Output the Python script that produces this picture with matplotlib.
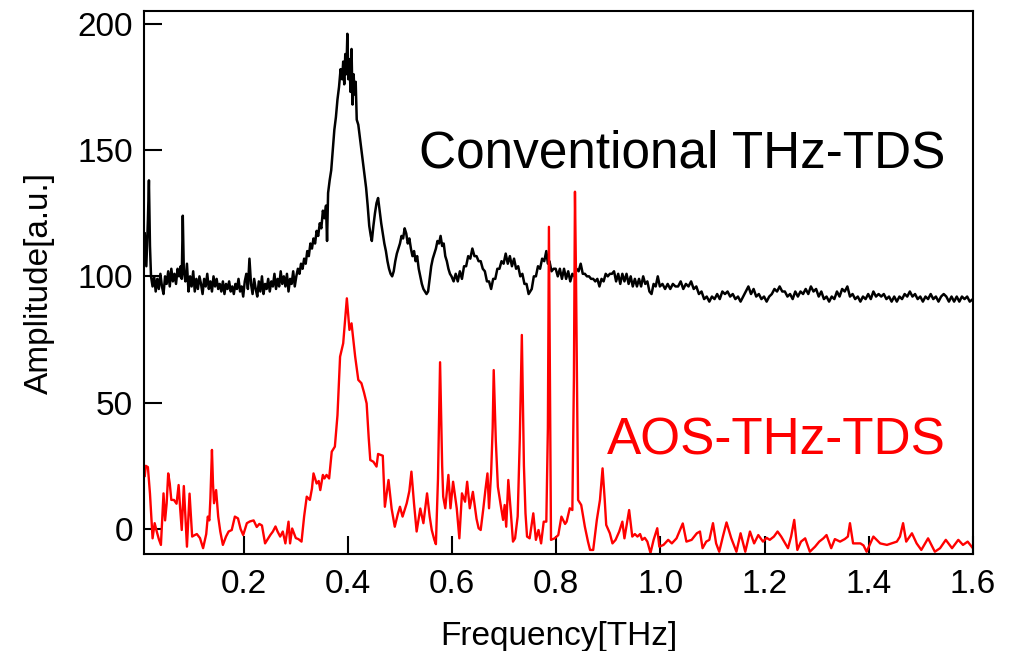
import matplotlib
matplotlib.use("Agg")
import matplotlib.pyplot as plt

plt.rcParams["font.family"] = ["Liberation Sans", "DejaVu Sans"]

# Conventional THz-TDS spectrum (black)
conv_freq = [
    0.010, 0.013, 0.016, 0.018, 0.020, 0.022, 0.025, 0.028, 0.031, 0.034, 0.037, 0.040,
    0.043, 0.046, 0.049, 0.052, 0.055, 0.058, 0.061, 0.064, 0.067, 0.070, 0.073, 0.076,
    0.079, 0.081, 0.083, 0.085, 0.088, 0.091, 0.094, 0.097, 0.100, 0.103, 0.106, 0.109,
    0.112, 0.115, 0.118, 0.121, 0.124, 0.127, 0.130, 0.133, 0.136, 0.139, 0.142, 0.145,
    0.148, 0.151, 0.154, 0.157, 0.160, 0.163, 0.166, 0.169, 0.172, 0.175, 0.178, 0.181,
    0.184, 0.187, 0.190, 0.193, 0.196, 0.199, 0.202, 0.205, 0.208, 0.211, 0.214, 0.217,
    0.220, 0.223, 0.226, 0.229, 0.232, 0.235, 0.238, 0.241, 0.244, 0.247, 0.250, 0.253,
    0.256, 0.259, 0.262, 0.265, 0.268, 0.271, 0.274, 0.277, 0.280, 0.283, 0.286, 0.289,
    0.292, 0.295, 0.298, 0.301, 0.304, 0.307, 0.310, 0.313, 0.316, 0.319, 0.322, 0.325,
    0.328, 0.331, 0.334, 0.337, 0.340, 0.343, 0.346, 0.349, 0.352, 0.355, 0.358, 0.360,
    0.362, 0.365, 0.368, 0.371, 0.374, 0.377, 0.380, 0.383, 0.386, 0.389, 0.391, 0.393,
    0.395, 0.397, 0.399, 0.401, 0.403, 0.405, 0.407, 0.409, 0.411, 0.413, 0.415, 0.417,
    0.420, 0.423, 0.426, 0.429, 0.432, 0.435, 0.438, 0.441, 0.444, 0.446, 0.449, 0.452,
    0.455, 0.458, 0.461, 0.464, 0.467, 0.470, 0.473, 0.476, 0.479, 0.482, 0.485, 0.488,
    0.491, 0.494, 0.497, 0.500, 0.503, 0.506, 0.509, 0.512, 0.515, 0.518, 0.521, 0.524,
    0.527, 0.530, 0.533, 0.536, 0.539, 0.542, 0.545, 0.548, 0.551, 0.554, 0.557, 0.560,
    0.563, 0.566, 0.569, 0.572, 0.575, 0.578, 0.581, 0.584, 0.587, 0.590, 0.593, 0.596,
    0.599, 0.603, 0.607, 0.611, 0.615, 0.619, 0.623, 0.627, 0.631, 0.635, 0.639, 0.643,
    0.647, 0.651, 0.655, 0.659, 0.663, 0.667, 0.671, 0.675, 0.679, 0.683, 0.687, 0.691,
    0.695, 0.699, 0.703, 0.707, 0.711, 0.715, 0.719, 0.723, 0.727, 0.731, 0.735, 0.739,
    0.743, 0.747, 0.750, 0.753, 0.757, 0.761, 0.765, 0.769, 0.773, 0.777, 0.781, 0.784,
    0.787, 0.791, 0.795, 0.799, 0.803, 0.807, 0.811, 0.815, 0.819, 0.823, 0.827, 0.831,
    0.835, 0.839, 0.843, 0.847, 0.851, 0.855, 0.859, 0.863, 0.867, 0.871, 0.875, 0.879,
    0.883, 0.887, 0.891, 0.895, 0.899, 0.903, 0.907, 0.911, 0.915, 0.919, 0.923, 0.927,
    0.931, 0.935, 0.939, 0.943, 0.947, 0.951, 0.955, 0.959, 0.963, 0.967, 0.971, 0.975,
    0.979, 0.983, 0.987, 0.991, 0.995, 0.999, 1.004, 1.009, 1.014, 1.019, 1.024, 1.029,
    1.034, 1.039, 1.044, 1.049, 1.054, 1.059, 1.064, 1.069, 1.074, 1.079, 1.084, 1.089,
    1.094, 1.099, 1.104, 1.109, 1.114, 1.119, 1.124, 1.129, 1.134, 1.139, 1.144, 1.149,
    1.154, 1.159, 1.164, 1.169, 1.174, 1.179, 1.184, 1.189, 1.194, 1.199, 1.204, 1.209,
    1.214, 1.219, 1.224, 1.229, 1.234, 1.239, 1.244, 1.249, 1.254, 1.259, 1.264, 1.269,
    1.274, 1.279, 1.284, 1.289, 1.294, 1.299, 1.304, 1.309, 1.314, 1.319, 1.324, 1.329,
    1.334, 1.339, 1.344, 1.349, 1.354, 1.359, 1.364, 1.369, 1.374, 1.379, 1.384, 1.389,
    1.394, 1.399, 1.404, 1.409, 1.414, 1.419, 1.424, 1.429, 1.434, 1.439, 1.444, 1.449,
    1.454, 1.459, 1.464, 1.469, 1.474, 1.479, 1.484, 1.489, 1.494, 1.499, 1.504, 1.509,
    1.514, 1.519, 1.524, 1.529, 1.534, 1.539, 1.544, 1.549, 1.554, 1.559, 1.564, 1.569,
    1.574, 1.579, 1.584, 1.589, 1.594, 1.600,
]
conv_amp = [
    117, 104, 122, 138, 112, 100, 96, 100, 94, 99, 95, 101,
    96, 93, 100, 97, 102, 96, 103, 98, 101, 97, 103, 100,
    104, 99, 124, 102, 98, 105, 94, 100, 96, 102, 94, 99,
    95, 100, 97, 93, 99, 96, 101, 95, 98, 94, 100, 96,
    99, 95, 97, 94, 98, 93, 97, 95, 98, 94, 96, 93,
    97, 95, 99, 94, 96, 92, 98, 101, 95, 107, 97, 93,
    99, 95, 92, 98, 94, 100, 93, 97, 95, 99, 94, 98,
    96, 101, 95, 99, 96, 102, 97, 100, 96, 101, 94, 99,
    97, 102, 96, 100, 103, 101, 105, 103, 107, 105, 110, 108,
    113, 111, 115, 113, 118, 116, 121, 119, 126, 123, 128, 114,
    133, 138, 142, 150, 158, 163, 170, 175, 182, 178, 185, 176,
    188, 180, 196, 178, 186, 173, 190, 168, 180, 172, 177, 162,
    160, 155, 150, 145, 140, 135, 128, 120, 116, 114, 120, 125,
    129, 131, 126, 121, 117, 113, 110, 106, 103, 101, 100, 102,
    106, 109, 111, 113, 116, 115, 119, 117, 113, 115, 111, 108,
    110, 106, 108, 103, 100, 97, 95, 94, 93, 94, 99, 104,
    107, 109, 111, 114, 113, 116, 112, 113, 108, 106, 103, 101,
    100, 98, 101, 98, 102, 99, 104, 104, 108, 107, 111, 108,
    108, 106, 106, 103, 102, 98, 98, 95, 99, 99, 103, 103,
    106, 105, 109, 105, 108, 104, 107, 103, 104, 100, 101, 97,
    97, 93, 94, 95, 100, 100, 104, 103, 107, 106, 110, 105,
    106, 102, 103, 103, 100, 103, 99, 103, 99, 102, 98, 101,
    100, 103, 102, 105, 101, 101, 100, 100, 99, 99, 98, 99,
    96, 99, 98, 101, 100, 101, 101, 102, 98, 101, 97, 101,
    98, 101, 97, 100, 96, 99, 96, 99, 96, 100, 97, 98,
    94, 93, 97, 96, 100, 96, 97, 95, 97, 95, 97, 96,
    96, 98, 95, 97, 96, 98, 95, 96, 93, 94, 91, 92,
    90, 92, 91, 93, 91, 94, 93, 94, 92, 93, 91, 92,
    90, 92, 94, 96, 93, 95, 92, 93, 91, 92, 90, 92,
    93, 95, 94, 96, 94, 94, 92, 93, 91, 94, 92, 94,
    93, 95, 93, 96, 94, 95, 92, 94, 91, 92, 90, 92,
    91, 94, 92, 95, 94, 96, 92, 93, 91, 92, 90, 92,
    91, 93, 91, 94, 92, 93, 92, 93, 91, 92, 90, 92,
    90, 92, 91, 93, 92, 94, 92, 93, 91, 92, 90, 92,
    91, 93, 91, 92, 90, 92, 93, 92, 90, 92, 90, 92,
    90, 92, 91, 92, 90, 91,
]

# AOS-THz-TDS spectrum (red)
aos_freq = [
    0.010, 0.012, 0.016, 0.020, 0.025, 0.029, 0.033, 0.037, 0.041, 0.046, 0.049, 0.052,
    0.055, 0.058, 0.061, 0.066, 0.071, 0.075, 0.078, 0.081, 0.085, 0.088, 0.091, 0.096,
    0.101, 0.106, 0.110, 0.116, 0.122, 0.128, 0.131, 0.134, 0.136, 0.139, 0.141, 0.143,
    0.147, 0.151, 0.155, 0.160, 0.166, 0.171, 0.177, 0.183, 0.189, 0.194, 0.199, 0.206,
    0.212, 0.219, 0.225, 0.230, 0.235, 0.241, 0.251, 0.256, 0.261, 0.265, 0.270, 0.275,
    0.280, 0.286, 0.289, 0.293, 0.297, 0.300, 0.305, 0.311, 0.316, 0.321, 0.327, 0.331,
    0.334, 0.340, 0.344, 0.347, 0.352, 0.355, 0.359, 0.364, 0.369, 0.375, 0.380, 0.385,
    0.391, 0.398, 0.403, 0.407, 0.414, 0.420, 0.426, 0.431, 0.436, 0.440, 0.443, 0.449,
    0.455, 0.458, 0.467, 0.471, 0.478, 0.484, 0.490, 0.496, 0.500, 0.505, 0.513, 0.518,
    0.522, 0.527, 0.532, 0.539, 0.545, 0.552, 0.557, 0.561, 0.566, 0.569, 0.573, 0.577,
    0.581, 0.583, 0.587, 0.593, 0.597, 0.602, 0.609, 0.614, 0.619, 0.625, 0.629, 0.634,
    0.640, 0.643, 0.647, 0.651, 0.655, 0.660, 0.664, 0.668, 0.671, 0.675, 0.678, 0.680,
    0.684, 0.688, 0.693, 0.698, 0.701, 0.704, 0.708, 0.713, 0.717, 0.721, 0.726, 0.730,
    0.734, 0.738, 0.741, 0.744, 0.749, 0.756, 0.761, 0.766, 0.771, 0.776, 0.781, 0.784,
    0.786, 0.788, 0.790, 0.797, 0.804, 0.810, 0.817, 0.820, 0.826, 0.831, 0.834, 0.836,
    0.838, 0.842, 0.848, 0.855, 0.861, 0.865, 0.871, 0.878, 0.884, 0.889, 0.893, 0.896,
    0.903, 0.908, 0.914, 0.921, 0.927, 0.931, 0.940, 0.946, 0.951, 0.956, 0.961, 0.965,
    0.970, 0.975, 0.981, 0.987, 0.994, 0.998, 1.006, 1.015, 1.022, 1.031, 1.043, 1.050,
    1.060, 1.070, 1.076, 1.081, 1.088, 1.094, 1.101, 1.107, 1.113, 1.120, 1.127, 1.136,
    1.146, 1.154, 1.163, 1.172, 1.180, 1.188, 1.197, 1.204, 1.210, 1.218, 1.225, 1.232,
    1.245, 1.251, 1.257, 1.263, 1.270, 1.278, 1.287, 1.297, 1.305, 1.313, 1.319, 1.328,
    1.335, 1.345, 1.354, 1.360, 1.364, 1.370, 1.384, 1.390, 1.396, 1.409, 1.422, 1.435,
    1.447, 1.454, 1.460, 1.466, 1.472, 1.483, 1.492, 1.501, 1.514, 1.527, 1.537, 1.548,
    1.560, 1.572, 1.581, 1.590, 1.600,
]
aos_amp = [
    21, 25, 24.5, 14, -3.7, 2.3, -1, -4, -6.3, 14.1, 3.4, 10,
    22, 18, 11.5, 11.5, 10, 17.4, 8, -0.4, 17, 5, -7, 14,
    -3, -2.4, -2, -3.6, -7.6, -2, 4.9, 3.4, 12, 31.3, 18, 10.2,
    15.4, 4.9, -1, -6.3, -3, -1, -0.4, 4.9, 4.2, 0, -2.4, 2.3,
    3, 3.4, 0.8, 2, 1.4, -5.7, -2.4, -1, 1, -1, -3, -1,
    -5.7, 2.9, -5.7, 0.2, -2, -3.6, -4, -5, 5, 12.8, 11.5, 16,
    22, 18, 19, 15.4, 21.4, 20, 21.4, 20, 30.6, 32.6, 45, 68.2,
    73.5, 91.3, 78.8, 81.4, 68.2, 59, 57.7, 54, 49.7, 36, 27.3, 26.6,
    24.7, 29.7, 29, 8.8, 19.4, 8, 0.9, 6, 8.8, 4.9, 10.2, 15,
    22.7, 10, -1, 8.1, 2.3, 14.1, 5, -0.4, -4.3, -6, 20, 66,
    25, 12.8, 8.2, 21.4, 8.2, 18.7, 8.2, -3.7, 14.1, 10.8, 18.7, 8.2,
    14.7, 10, 4, 0.3, -0.4, 8, 15.4, 22, 8.2, 22, 40, 62.9,
    35, 16.7, 10, 3.6, 9.5, 0.9, 19.4, 6.2, -5, -3.7, 5, 35,
    76.8, 25, 6.2, -3, -3.7, 6.2, -4.3, -0.4, -5.7, 2.9, 2.9, 40,
    119.6, 60, -4.3, -3.7, -2.4, 4.9, 2, 2.9, 8.2, 7.5, 60, 133.5,
    100, 11.5, 9.5, 0.9, -5, -8.3, -8.3, 3.6, 11.5, 24, 12, 1.6,
    -1.7, -5.7, -4.3, -1, 2.9, -3.7, 7.5, -3, -2, -3, -2, -4.3,
    -3.5, -5, -9.5, -4.3, 0.3, -7, -6.3, -4.3, -5.7, -3.7, 2.2, -5,
    -4.3, -1.7, -1, -7.6, -5, -4.3, 2.3, -5.7, -9, -3, 2.6, -3.6,
    -9, -1.7, -9, -1, -5.7, -2.4, -5, -3.5, -4.3, -3, -1, -3,
    -7.6, -3, 3.6, -8.3, -5, -3.7, -9, -7, -5, -3.7, -2.4, -7.6,
    -4, -5, -4, -3, 2.3, -5.7, -5.7, -6.5, -9, -3, -5.7, -6.3,
    -5.5, -5, -3, 2.3, -5, -1.7, -5.7, -8.3, -3.7, -9, -7.6, -4.3,
    -7.6, -4.3, -6.3, -5, -7.6,
]

x_ticks = [0.2, 0.4, 0.6, 0.8, 1.0, 1.2, 1.4, 1.6]
y_ticks = [0, 50, 100, 150, 200]

fig = plt.figure(figsize=(10.23, 6.51), dpi=100)
ax = fig.add_axes([0.141, 0.149, 0.810, 0.834])

ax.plot(conv_freq, conv_amp, color="black", lw=1.8)
ax.plot(aos_freq, aos_amp, color="red", lw=1.7)

ax.set_xlim(0.009, 1.6)
ax.set_ylim(-9.9, 205)
ax.set_xticks(x_ticks)
ax.set_xticklabels([f"{t:.1f}" for t in x_ticks])
ax.set_yticks(y_ticks)

ax.tick_params(direction="in", length=13, width=1.5, labelsize=24,
               top=False, right=False)
ax.tick_params(axis="x", pad=11)
ax.tick_params(axis="y", pad=8)
for sp in ax.spines.values():
    sp.set_linewidth(1.5)

ax.set_xlabel("Frequency[THz]", fontsize=24, labelpad=15)
ax.set_ylabel("Amplitude[a.u.]", fontsize=24, labelpad=16)

ax.text(1.548, 142.9, "Conventional THz-TDS", color="black", fontsize=37,
        ha="right", va="baseline")
ax.text(1.548, 29.3, "AOS-THz-TDS", color="red", fontsize=37,
        ha="right", va="baseline")

fig.savefig("out.png", dpi=100)
